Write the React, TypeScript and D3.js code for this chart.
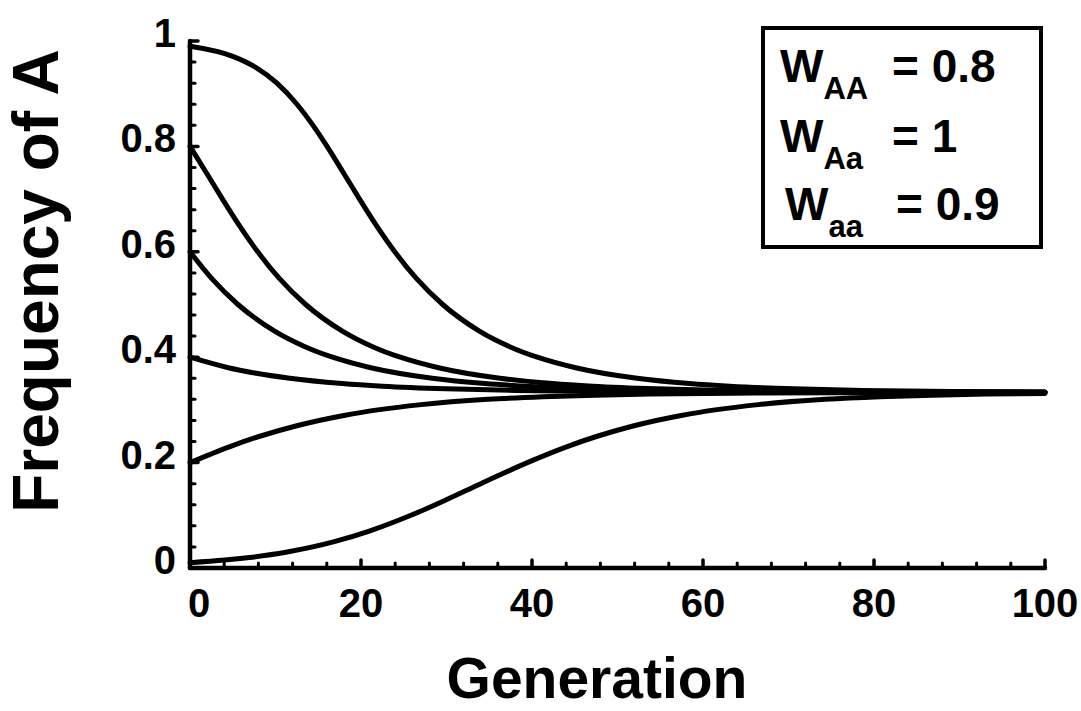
import React from "react";
import * as d3 from "d3";

// Allele frequency trajectories under heterozygote advantage
// (W_AA = 0.8, W_Aa = 1, W_aa = 0.9), one series per starting frequency.
const genFrom099 = [0, 5.16, 7.69, 10.17, 12.51, 14.39, 16.03, 17.94, 19.83, 21.79, 23.95, 26.45, 29.56, 33.8, 37.39, 40.62, 45.1, 52.28, 58.43, 63.14, 70.59, 78.6, 89.2, 100];
const freqFrom099 = [0.99, 0.97, 0.95, 0.92, 0.88, 0.84, 0.8, 0.75, 0.7, 0.65, 0.6, 0.55, 0.5, 0.45, 0.42, 0.4, 0.38, 0.36, 0.35, 0.345, 0.34, 0.337, 0.335, 0.3341];

const genFrom08 = [0, 1.91, 3.8, 5.76, 7.92, 10.42, 13.53, 17.77, 21.36, 24.59, 29.07, 36.25, 42.4, 47.11, 54.56, 62.57, 73.17, 85.52, 100];
const freqFrom08 = [0.8, 0.75, 0.7, 0.65, 0.6, 0.55, 0.5, 0.45, 0.42, 0.4, 0.38, 0.36, 0.35, 0.345, 0.34, 0.337, 0.335, 0.334, 0.3336];

const genFrom06 = [0, 2.5, 5.61, 9.85, 13.45, 16.68, 21.15, 28.34, 34.48, 39.2, 46.65, 54.65, 65.26, 77.6, 100];
const freqFrom06 = [0.6, 0.55, 0.5, 0.45, 0.42, 0.4, 0.38, 0.36, 0.35, 0.345, 0.34, 0.337, 0.335, 0.334, 0.3335];

const genFrom04 = [0, 4.48, 11.66, 17.81, 22.52, 29.97, 37.98, 48.58, 60.93, 100];
const freqFrom04 = [0.4, 0.38, 0.36, 0.35, 0.345, 0.34, 0.337, 0.335, 0.334, 0.3334];

const genFrom02 = [0, 4.6, 8.17, 12.49, 18.16, 21.96, 27.03, 34.82, 41.28, 47.37, 53.76, 66.17, 84.91, 100];
const freqFrom02 = [0.2, 0.23, 0.25, 0.27, 0.29, 0.3, 0.31, 0.32, 0.325, 0.328, 0.33, 0.332, 0.333, 0.3332];

const genFrom001 = [0, 4.04, 6.96, 11.21, 16.88, 20.97, 25.84, 30.04, 34.01, 39.45, 44.04, 47.62, 51.93, 57.61, 61.41, 66.47, 74.26, 80.72, 86.81, 93.2, 100];
const freqFrom001 = [0.01, 0.015, 0.02, 0.03, 0.05, 0.07, 0.1, 0.13, 0.16, 0.2, 0.23, 0.25, 0.27, 0.29, 0.3, 0.31, 0.32, 0.325, 0.328, 0.33, 0.3313];

const seriesGens = [genFrom099, genFrom08, genFrom06, genFrom04, genFrom02, genFrom001];
const seriesFreqs = [freqFrom099, freqFrom08, freqFrom06, freqFrom04, freqFrom02, freqFrom001];

const xTickLabels = [0, 20, 40, 60, 80, 100];
const yTickLabels = [0, 0.2, 0.4, 0.6, 0.8, 1];

const fitnessNames = ["AA", "Aa", "aa"];
const fitnessValues = ["0.8", "1", "0.9"];

const W = 1081;
const H = 711;
const FONT = "'Liberation Sans', Arial, Helvetica, sans-serif";

export default function App() {
  const x = d3.scaleLinear().domain([0, 100]).range([190, 1045]);
  const y = d3.scaleLinear().domain([0, 1]).range([568, 41]);

  const line = d3
    .line<[number, number]>()
    .x((d) => x(d[0]))
    .y((d) => y(d[1]))
    .curve(d3.curveMonotoneX);

  const xMinor = d3.range(0, 101, 4).filter((v) => v % 20 !== 0);
  const yMinor = d3.range(0, 26).map((i) => i * 0.04).filter((_, i) => i % 5 !== 0);

  const fmtY = (v: number) => (v === 0 || v === 1 ? String(v) : v.toFixed(1));

  return (
    <svg
      width={W}
      height={H}
      viewBox={`0 0 ${W} ${H}`}
      style={{ position: "absolute", left: 0, top: 0, background: "#fff" }}
      fontFamily={FONT}
      fontWeight="bold"
    >
      <rect x={0} y={0} width={W} height={H} fill="#fff" />

      {/* trajectories */}
      <g fill="none" stroke="#000" strokeWidth={5} strokeLinecap="round" strokeLinejoin="round">
        {seriesGens.map((gens, i) => {
          const pts = gens.map((g, j) => [g, seriesFreqs[i][j]] as [number, number]);
          return <path key={i} d={line(pts) || ""} />;
        })}
      </g>

      {/* axes */}
      <g stroke="#000" strokeLinecap="round">
        <line x1={x(0)} x2={x(100)} y1={y(0)} y2={y(0)} strokeWidth={4.5} />
        <line x1={x(0)} x2={x(0)} y1={y(0)} y2={y(1)} strokeWidth={4.5} />
        {xMinor.map((v) => (
          <line key={"xm" + v} x1={x(v)} x2={x(v)} y1={y(0)} y2={y(0) - 5} strokeWidth={3} />
        ))}
        {xTickLabels.map((v) => (
          <line key={"xM" + v} x1={x(v)} x2={x(v)} y1={y(0)} y2={y(0) - 8} strokeWidth={3.5} />
        ))}
        {yMinor.map((v) => (
          <line key={"ym" + v} x1={x(0)} x2={x(0) + 5} y1={y(v)} y2={y(v)} strokeWidth={3} />
        ))}
        {yTickLabels.map((v) => (
          <line key={"yM" + v} x1={x(0)} x2={x(0) + 8} y1={y(v)} y2={y(v)} strokeWidth={3.5} />
        ))}
      </g>

      {/* tick labels */}
      <g fontSize={40} fill="#000">
        {xTickLabels.map((v) => (
          <text key={"xl" + v} x={x(v) + (v === 0 ? 9 : 0)} y={617} textAnchor="middle">
            {v}
          </text>
        ))}
        {yTickLabels.map((v) => (
          <text key={"yl" + v} x={176} y={y(v) + 6} textAnchor="end">
            {fmtY(v)}
          </text>
        ))}
      </g>

      {/* axis titles */}
      <text x={597} y={698} fontSize={57} textAnchor="middle">
        Generation
      </text>
      <text transform="translate(58,281) rotate(-90)" fontSize={64} textAnchor="middle">
        Frequency of A
      </text>

      {/* fitness legend */}
      <rect x={763} y={28} width={278} height={219} fill="#fff" stroke="#000" strokeWidth={4} />
      {fitnessNames.map((n, i) => {
        const base = [82, 152, 220][i];
        return (
          <g key={n} fontSize={46}>
            <text x={i === 2 ? 785 : 780} y={base}>
              W
              <tspan fontSize={31} dy={17}>
                {n}
              </tspan>
            </text>
            <text x={i === 2 ? 896 : 892} y={base}>
              {"= " + fitnessValues[i]}
            </text>
          </g>
        );
      })}
    </svg>
  );
}
